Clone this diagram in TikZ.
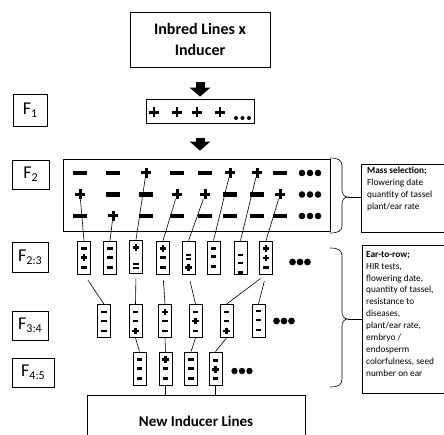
\documentclass[tikz,border=0pt]{standalone}
\usepackage{fontspec}
\setmainfont{Carlito}
\usetikzlibrary{arrows.meta,calc}
\newcommand\fsb[1]{\raisebox{-0.4ex}{\fontsize{12}{12}\selectfont #1}}
\newcommand\smbx[3]{\node[sb] (#1) at (#2) {};
  \foreach \s/\o in {#3} {\pic at ($(#1.center)+(0,\o)$) {\s};}}
\begin{document}
\begin{tikzpicture}[x=1pt,y=-1pt,
  box/.style={draw, line width=0.7pt, inner sep=0pt},
  flbl/.style={box, font=\fontsize{18}{18}\selectfont},
  sb/.style={box, minimum width=13pt, minimum height=33pt},
  lnk/.style={line width=0.6pt},
  bigarr/.style={line width=9pt, -{Triangle[length=9pt 0 0,width=20pt 0 0]}},
  bmin/.pic={\fill (-7,-2.3) rectangle (7,2.3);},
  bplus/.pic={\fill (-4.8,-1.5) rectangle (4.8,1.5); \fill (-1.5,-5) rectangle (1.5,5);},
  fplus/.pic={\fill (-5,-1.3) rectangle (5,1.3); \fill (-1.3,-5) rectangle (1.3,5);},
  smin/.pic={\fill (-2.7,-1.3) rectangle (2.7,1.3);},
  splus/.pic={\fill (-3.3,-1.2) rectangle (3.3,1.2); \fill (-1.2,-3.3) rectangle (1.2,3.3);},
  seq/.pic={\fill (-2.7,-2.8) rectangle (2.7,-0.7); \fill (-2.7,0.7) rectangle (2.7,2.8);},
  sidetxt/.style={anchor=north west, align=left, inner sep=0pt, font=\fontsize{9.3}{11.9}\selectfont}
  ]
\useasboundingbox (0,0) rectangle (444,435);

% top box
\node[box, minimum width=140pt, minimum height=55pt, align=center,
  font=\bfseries\fontsize{16}{21}\selectfont] (top) at (200,39.5) {Inbred Lines x\\Inducer};

% F1 row
\node[box, minimum width=108pt, minimum height=24pt] (f1row) at (200,111) {};
\foreach \x in {154,177,197,220} \pic at (\x,112.5) {fplus};
\foreach \x in {236,242.5,249} \fill (\x,118) circle (2pt);

% labels
\node[flbl, minimum width=34pt, minimum height=32pt] (lf1) at (30,110) {F\fsb{1}};
\node[flbl, minimum width=37pt, minimum height=29pt] (lf2) at (30.5,174.5) {F\fsb{2}};
\node[flbl, minimum width=36pt, minimum height=30pt] (lf23) at (30,257) {F\fsb{2:3}};
\node[flbl, minimum width=36pt, minimum height=29pt] (lf34) at (30,325.5) {F\fsb{3:4}};
\node[flbl, minimum width=42pt, minimum height=29pt] (lf45) at (33,372.5) {F\fsb{4:5}};

% F2 box
\node[box, minimum width=267pt, minimum height=72pt] (f2box) at (196.5,195) {};
\foreach \r/\y in {1/173,2/194.5,3/216}
  \foreach \c/\x in {1/80,2/113,3/146,4/177,5/205,6/230,7/257,8/280}
    \coordinate (s\r\c) at (\x,\y);

% arrows
\draw[bigarr, shorten <=15pt, shorten >=2pt] (top.south) -- (f1row.north);
\draw[bigarr, shorten <=15pt, shorten >=8pt] (f1row.south) -- (f1row.south |- f2box.north);

% F2:3 boxes
\smbx{b1}{84,257.5}{smin/-9,splus/0,smin/10}
\smbx{b2}{110,257.5}{smin/-9,smin/0,smin/10}
\smbx{b3}{136,256.5}{splus/-9,seq/9.5}
\smbx{b4}{163,257.5}{splus/-9,smin/0,smin/10}
\smbx{b5}{188.5,257.5}{seq/-0.5,splus/10}
\smbx{b6}{213.5,257.5}{smin/-9,smin/-1,smin/9}
\smbx{b7}{240.5,257.5}{smin/-2.5,smin/5.5,smin/15}
\smbx{b8}{266,257.5}{splus/-9,splus/0.5,smin/10}
\foreach \x in {292.5,300,307.5} \fill (\x,262) circle (3.4pt);

% F3:4 boxes
\smbx{c1}{104,321}{smin/-9,smin/0,smin/10}
\smbx{c2}{135.5,321}{smin/-9,smin/0,splus/10}
\smbx{c3}{165,321}{splus/-9,smin/0,smin/10}
\smbx{c4}{195.5,321}{smin/-9,splus/0,smin/10}
\smbx{c5}{226.5,321}{smin/-9,smin/0,splus/10}
\smbx{c6}{258.5,321}{smin/-10,smin/-1,smin/9}
\foreach \x in {276.5,284,291.5} \fill (\x,321) circle (3.4pt);

% F4:5 boxes
\smbx{d1}{139.5,368.5}{smin/-9,smin/0,smin/10}
\smbx{d2}{165.5,368.5}{splus/-9,smin/0,smin/10}
\smbx{d3}{191,368.5}{smin/-9,smin/0,smin/10}
\smbx{d4}{215.5,368.5}{smin/-8,splus/1,smin/10}
\foreach \x in {234.5,242,249.5} \fill (\x,371) circle (3.2pt);

% new inducer lines
\node[box, minimum width=218pt, minimum height=52pt,
  font=\bfseries\fontsize{15}{18}\selectfont] (new) at (196,421) {New Inducer Lines};

% links F2 -> F2:3
\draw[lnk, shorten <=5pt] (s21) -- (b1.north);
\draw[lnk, shorten <=4pt] (s32) -- (b2.north);
\draw[lnk, shorten <=5pt] (s13) -- (b3.north);
\draw[lnk, shorten <=5pt] (s24) -- (b4.north);
\draw[lnk, shorten <=5pt] (s25) -- (b5.north);
\draw[lnk, shorten <=5pt] (s16) -- (b6.north);
\draw[lnk, shorten <=5pt] (s17) -- (b7.north);
\draw[lnk, shorten <=5pt] (s28) -- (b8.north);

% F2 signs
\foreach \c/\t in {1/bmin,2/bmin,3/bplus,4/bmin,5/bmin,6/bplus,7/bplus,8/bmin} \pic at (s1\c) {\t};
\foreach \c/\t in {1/bplus,2/bmin,3/bmin,4/bplus,5/bplus,6/bmin,7/bmin,8/bplus} \pic at (s2\c) {\t};
\foreach \c/\t in {1/bmin,2/bplus,3/bmin,4/bmin,5/bmin,6/bmin,7/bmin,8/bmin} \pic at (s3\c) {\t};
\foreach \y in {173,194.5,216} \foreach \x in {302,310,318} \fill (\x,\y) circle (3.3pt);

% links F2:3 -> F3:4
\draw[lnk, shorten <=7pt] (b1.south) -- (c1.north);
\draw[lnk, shorten <=5pt] (b3.south) -- (c2.north);
\draw[lnk, shorten <=6pt] (b4.south) -- (c3.north);
\draw[lnk, shorten <=7pt] (b5.south) -- (c4.north);
\draw[lnk, shorten <=7pt] (b8.south) -- (c5.north);
\draw[lnk, shorten <=7pt] (b8.south) -- (c6.north);

% links F3:4 -> F4:5
\draw[lnk] (c2.south) -- (d1.north);
\draw[lnk] (c3.south) -- (d2.north);
\draw[lnk] (c4.south) -- (d3.north);
\draw[lnk] (c5.south) -- (d4.north);

% links F4:5 -> new
\draw[lnk] (d2.south) -- (d2.south |- new.north);
\draw[lnk] (d4.south) -- (d4.south |- new.north);

% side boxes
\node[box, minimum width=89pt, minimum height=68pt, anchor=north west] (mass) at (361,164) {};
\node[sidetxt] (masstxt) at (367,167) {\textbf{Mass selection;}\\Flowering date\\quantity of tassel\\plant/ear rate};
\node[box, minimum width=88pt, minimum height=148pt, anchor=north west] (ear) at (362,245) {};
\node[sidetxt] (eartxt) at (366,251) {\textbf{Ear-to-row;}\\HIR tests,\\flowering date,\\quantity of tassel,\\resistance to\\diseases,\\plant/ear rate,\\embryo /\\endosperm\\colorfulness, seed\\number on ear};

% braces
\coordinate (br1t) at (348,197);
\draw[lnk] (330,158) .. controls (338,158) and (342,160) .. (342,166) -- (342,190)
  .. controls (342,194) and (344,197) .. (br1t) .. controls (344,197) and (342,200) .. (342,204)
  -- (342,226) .. controls (342,231) and (338,233) .. (330,233);
\draw[lnk] (br1t) -- (br1t -| mass.west);
\coordinate (br2t) at (348,319);
\draw[lnk] (330,248) .. controls (338,248) and (342,250) .. (342,256) -- (342,312)
  .. controls (342,316) and (344,319) .. (br2t) .. controls (344,319) and (342,322) .. (342,326)
  -- (342,379) .. controls (342,385) and (338,387) .. (330,387);
\draw[lnk] (br2t) -- (br2t -| ear.west);
\end{tikzpicture}
\end{document}
